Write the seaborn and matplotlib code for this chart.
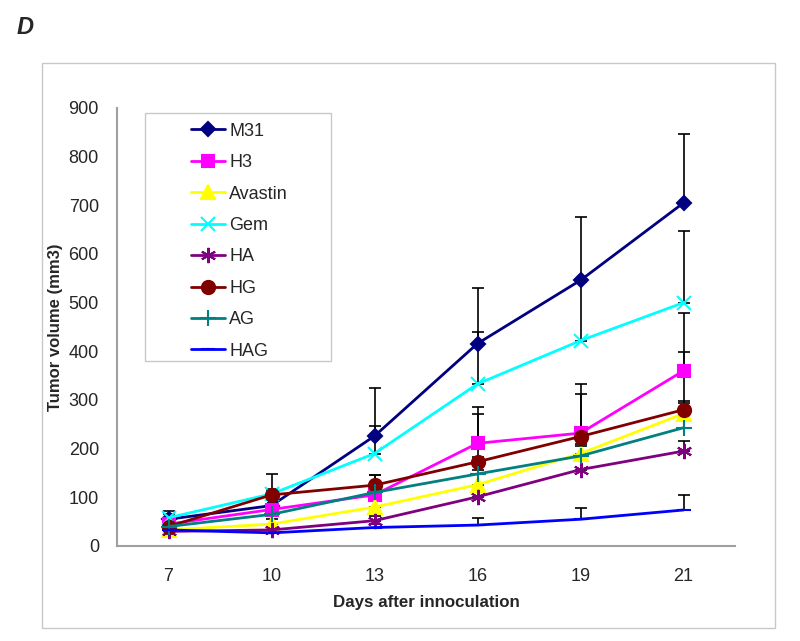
import numpy as np
import pandas as pd
import matplotlib
matplotlib.use("Agg")
import matplotlib.pyplot as plt
import seaborn as sns
from matplotlib.patches import Rectangle

sns.set_style("white")
plt.rcParams["font.family"] = ["Liberation Sans", "DejaVu Sans"]

days = ["7", "10", "13", "16", "19", "21"]
groups = ["M31", "H3", "Avastin", "Gem", "HA", "HG", "AG", "HAG"]

m31 = [55, 83, 226, 416, 546, 705]
h3 = [45, 75, 105, 211, 232, 360]
avastin = [33, 45, 80, 126, 190, 272]
gem = [58, 107, 190, 333, 422, 500]
ha = [30, 33, 52, 101, 157, 195]
hg = [40, 105, 125, 173, 225, 280]
ag = [40, 65, 110, 148, 185, 243]
hag = [33, 27, 38, 43, 55, 74]

# upper error (Excel "plus" bars)
m31_err = [17, 65, 98, 114, 130, 141]
h3_err = [8, 10, 41, 74, 101, 118]
avastin_err = [5, 10, 15, 30, 20, 25]
gem_err = [8, 10, 56, 106, 120, 147]
ha_err = [5, 5, 10, 15, 20, 20]
hg_err = [8, 10, 21, 98, 87, 118]
ag_err = [5, 10, 10, 35, 20, 51]
hag_err = [5, 5, 8, 15, 23, 31]

values = [m31, h3, avastin, gem, ha, hg, ag, hag]
errors = [m31_err, h3_err, avastin_err, gem_err, ha_err, hg_err, ag_err, hag_err]
colors = ["#000080", "#FF00FF", "#FFFF00", "#00FFFF", "#800080", "#800000", "#008080", "#0000FF"]
markers = ["D", "s", "^", "x", (6, 2, 0), "o", "+", "_"]
msizes = [7.5, 8.5, 9.5, 9.5, 11, 9.5, 11, 10]

fig = plt.figure(figsize=(8, 6.41), dpi=100)
fig.patches.append(Rectangle((42 / 800, 1 - 628 / 641), (775 - 42) / 800, (628 - 63) / 641,
                             transform=fig.transFigure, fill=False, edgecolor="#c8c8c8", lw=1))
ax = fig.add_axes([117 / 800, 1 - 546 / 641, (735 - 117) / 800, (546 - 108) / 641])

x = np.arange(len(days))
for vals, err in zip(values, errors):
    ax.errorbar(x, vals, yerr=[np.zeros(len(err)), err], fmt="none", ecolor="black",
                elinewidth=1.2, capsize=4, capthick=1.2, zorder=1)

handles = []
for name, vals, c, m, ms in zip(groups, values, colors, markers, msizes):
    df = pd.DataFrame({"x": x, "y": vals})
    sns.lineplot(data=df, x="x", y="y", ax=ax, color=c, marker=m, markersize=ms,
                 markeredgecolor=c, markerfacecolor=c, markeredgewidth=1.5, linewidth=2,
                 zorder=2, legend=False)
    handles.append(ax.lines[-1])

ax.set_xlim(-0.5, len(days) - 0.5)
ax.set_ylim(0, 900)
ax.set_yticks(range(0, 901, 100))
ax.set_xticks(x)
ax.set_xticklabels(days)
ax.set_xticks(np.arange(-0.5, len(days), 1), minor=True)
ax.tick_params(axis="x", which="major", length=0, labelsize=13, pad=16)
ax.tick_params(axis="x", which="minor", length=5, color="#909090", width=1)
ax.tick_params(axis="y", length=5, color="#909090", width=1, labelsize=13, pad=8)
for s in ["top", "right"]:
    ax.spines[s].set_visible(False)
for s in ["left", "bottom"]:
    ax.spines[s].set_color("#a0a0a0")
    ax.spines[s].set_linewidth(1.5)

ax.set_xlabel("Days after innoculation", fontsize=12.2, fontweight="bold", labelpad=7)
ax.set_ylabel("Tumor volume (mm3)", fontsize=12, fontweight="bold", labelpad=4)

# legend box
ax.add_patch(Rectangle(((145 - 117) / 618, (546 - 361) / 438), (331 - 145) / 618, (361 - 113) / 438,
                       transform=ax.transAxes, fill=True, facecolor="white",
                       edgecolor="#c8c8c8", lw=1, zorder=3))
leg = ax.legend(handles, groups, loc="upper left",
                bbox_to_anchor=((178 - 117) / 618, (546 - 110) / 438),
                frameon=False, fontsize=13, labelspacing=0.8, handlelength=1.9,
                handletextpad=0.25, borderpad=0.2)
leg.set_zorder(4)

fig.text(17 / 800, 1 - 28 / 641, "D", fontsize=17, fontweight="bold", fontstyle="italic",
         va="center", ha="left")

fig.savefig("out.png", dpi=100)
